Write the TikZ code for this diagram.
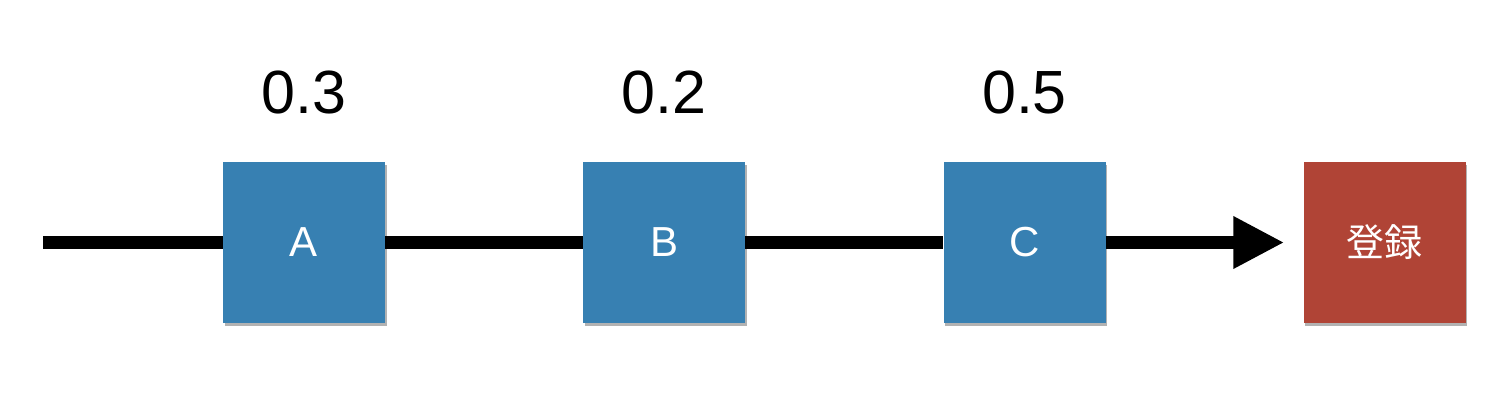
\documentclass[tikz,border=0pt]{standalone}
\usepackage{fontspec}
\setmainfont{Liberation Sans}
\newfontfamily\cjk{Noto Sans CJK JP}
\usetikzlibrary{arrows.meta,shadows}
\definecolor{boxblue}{RGB}{55,128,178}
\definecolor{boxred}{RGB}{176,68,54}
\tikzset{
  stepbox/.style={draw=none, minimum width=162pt, minimum height=161pt, inner sep=0pt,
    text=white, font=\fontsize{42}{42}\selectfont,
    drop shadow={shadow xshift=1.5pt, shadow yshift=-3pt, opacity=0.3, fill=black}},
  prob/.style={anchor=base, font=\fontsize{61}{61}\selectfont, inner sep=0pt},
  flow/.style={line width=13pt, black}
}
\begin{document}
\begin{tikzpicture}[x=1pt,y=-1pt]
\useasboundingbox (0,0) rectangle (1510,404);
\coordinate (start) at (43,242.5);
\node[stepbox, fill=boxblue] (A) at (304,242.5) {A};
\node[stepbox, fill=boxblue] (B) at (664,242.5) {B};
\node[stepbox, fill=boxblue] (C) at (1024.5,242.5) {C};
\node[stepbox, fill=boxred, font=\cjk\fontsize{38}{38}\selectfont] (D) at (1384.5,242.5) {登録};
\node[prob] (pA) at (304,113) {0.3};
\node[prob] (pB) at (664,113) {0.2};
\node[prob] (pC) at (1024.5,113) {0.5};
\draw[flow] (start) -- (A.west);
\draw[flow] (A.east) -- (B.west);
\draw[flow] (B.east) -- (C.west);
\draw[flow, -{Triangle[length=51pt,width=49pt]}, shorten >=19pt] (C.east) -- (D.west);
\end{tikzpicture}
\end{document}
